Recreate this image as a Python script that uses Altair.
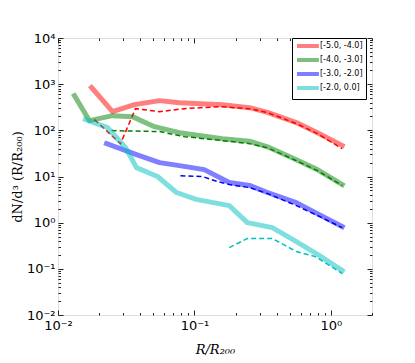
import altair as alt
import pandas as pd

bins = ["[-5.0, -4.0]", "[-4.0, -3.0]", "[-3.0, -2.0]", "[-2.0, 0.0]"]
colors = ["#FF0000", "#008000", "#0000FF", "#00BFBF"]

red_solid_x = [0.0176, 0.0251, 0.0363, 0.0555, 0.0776, 0.160, 0.253, 0.343, 0.558, 0.796, 1.21]
red_solid_y = [850, 254, 360, 440, 398, 360, 310, 245, 147, 89, 47]
red_dash_x = [0.0185, 0.0287, 0.0370, 0.0555, 0.0845, 0.152, 0.253, 0.343, 0.558, 0.796, 1.21]
red_dash_y = [171, 51.5, 295, 254, 295, 326, 295, 242, 140, 85, 40]

green_solid_x = [0.0132, 0.0170, 0.0251, 0.0351, 0.0509, 0.0776, 0.160, 0.253, 0.343, 0.558, 0.796, 1.21]
green_solid_y = [564, 162, 208, 198, 120, 89, 66, 58, 44, 23, 14.1, 6.7]
green_dash_x = [0.0247, 0.0555, 0.0845, 0.160, 0.253, 0.343, 0.558, 0.796, 1.21]
green_dash_y = [98.6, 94, 73, 60, 51.5, 42, 22, 13.4, 6.4]

blue_solid_x = [0.0227, 0.0376, 0.0555, 0.0776, 0.118, 0.180, 0.253, 0.343, 0.558, 0.796, 1.21]
blue_solid_y = [51.5, 29.8, 20, 17.2, 14.1, 7.4, 6.4, 4.5, 2.72, 1.57, 0.82]
blue_dash_x = [0.0789, 0.115, 0.147, 0.180, 0.253, 0.343, 0.558, 0.796, 1.21]
blue_dash_y = [10.4, 9.95, 7.8, 6.7, 5.75, 4.27, 2.34, 1.43, 0.78]

cyan_solid_x = [0.0159, 0.0231, 0.0313, 0.0376, 0.0536, 0.0738, 0.103, 0.180, 0.244, 0.372, 0.558, 0.809, 1.21]
cyan_solid_y = [171, 114, 42, 15.6, 10, 4.5, 3.2, 2.34, 1.0, 0.78, 0.39, 0.20, 0.092]
cyan_dash_x = [0.180, 0.244, 0.372, 0.558, 0.769, 1.21]
cyan_dash_y = [0.289, 0.453, 0.453, 0.237, 0.184, 0.079]

x_major = [0.01, 0.1, 1]
x_major_labels = ["10⁻²", "10⁻¹", "10⁰"]
x_minor = [m * 10.0 ** e for e in (-2, -1) for m in range(2, 10)] + [2.0]
y_major = [0.01, 0.1, 1, 10, 100, 1000, 10000]
y_major_labels = ["10⁻²", "10⁻¹", "10⁰", "10¹", "10²", "10³", "10⁴"]
y_minor = [m * 10.0 ** e for e in range(-2, 4) for m in range(2, 10)]

W, H = 314, 277

series = [
    (bins[0], red_solid_x, red_solid_y, red_dash_x, red_dash_y),
    (bins[1], green_solid_x, green_solid_y, green_dash_x, green_dash_y),
    (bins[2], blue_solid_x, blue_solid_y, blue_dash_x, blue_dash_y),
    (bins[3], cyan_solid_x, cyan_solid_y, cyan_dash_x, cyan_dash_y),
]


def label_expr(vals, labels):
    expr = "''"
    for v, l in reversed(list(zip(vals, labels))):
        expr = f"abs(datum.value - {v}) < {v}*0.001 ? '{l}' : ({expr})"
    return expr


xscale = alt.Scale(type="log", domain=[0.01, 2.0], nice=False)
yscale = alt.Scale(type="log", domain=[0.01, 10000], nice=False)
cscale = alt.Scale(domain=bins, range=colors)

tick_common = dict(labels=False, domain=False, grid=False, title=None,
                   tickColor="#222222", tickWidth=1)

x_axes = [
    alt.Axis(orient="bottom", values=x_major, labelExpr=label_expr(x_major, x_major_labels),
             ticks=False, domain=False, grid=False, labelPadding=4, labelFlush=False,
             labelFontSize=13, labelFont="DejaVu Sans", labelColor="#000000",
             title="R/R₂₀₀", titleFont="DejaVu Serif", titleFontStyle="italic",
             titleFontWeight="normal", titleFontSize=13, titleY=34, titleBaseline="middle"),
    alt.Axis(orient="top", offset=-H, values=x_major, tickSize=5, **tick_common),
    alt.Axis(orient="top", offset=-H, values=x_minor, tickSize=2.5, **tick_common),
    alt.Axis(orient="bottom", offset=-H, values=x_major, tickSize=5, **tick_common),
    alt.Axis(orient="bottom", offset=-H, values=x_minor, tickSize=2.5, **tick_common),
]
y_axes = [
    alt.Axis(orient="left", values=y_major, labelExpr=label_expr(y_major, y_major_labels),
             ticks=False, domain=False, grid=False, labelPadding=3, labelFlush=False,
             labelFontSize=13, labelFont="DejaVu Sans", labelColor="#000000",
             title="dN/d³ (R/R₂₀₀)", titleFont="DejaVu Serif",
             titleFontWeight="normal", titleFontSize=13, titleX=-41, titleY=H / 2,
             titleBaseline="middle", titleAngle=270),
    alt.Axis(orient="right", offset=-W, values=y_major, tickSize=5, **tick_common),
    alt.Axis(orient="right", offset=-W, values=y_minor, tickSize=2.5, **tick_common),
    alt.Axis(orient="left", offset=-W, values=y_major, tickSize=5, **tick_common),
    alt.Axis(orient="left", offset=-W, values=y_minor, tickSize=2.5, **tick_common),
]

legend = alt.Legend(title=None, orient="none", legendX=234, legendY=0,
                    symbolType="M-1,0L6.3,0", symbolStrokeWidth=4, symbolOpacity=0.5,
                    symbolSize=36, symbolDash=[1, 0],
                    labelFontSize=8, labelFont="DejaVu Sans", labelColor="#000000",
                    strokeColor="#000000", fillColor="#FFFFFF", padding=3,
                    rowPadding=-2, labelOffset=15, offset=0, cornerRadius=0)

layers = []
k = 0
for name, sx, sy, dx, dy in series:
    for style, xs, ys in (("solid", sx, sy), ("dash", dx, dy)):
        df = pd.DataFrame({"x": xs, "y": ys, "bin": name, "order": range(len(xs))})
        xa = x_axes[k] if k < len(x_axes) else None
        ya = y_axes[k] if k < len(y_axes) else None
        if style == "solid":
            mark = alt.Chart(df).mark_line(strokeWidth=5, opacity=0.5,
                                           strokeCap="square", strokeJoin="round")
            leg = legend if k == 0 else None
        else:
            mark = alt.Chart(df).mark_line(strokeWidth=1.5, strokeDash=[5, 3])
            leg = None
        layers.append(mark.encode(
            x=alt.X("x:Q", scale=xscale, axis=xa),
            y=alt.Y("y:Q", scale=yscale, axis=ya),
            color=alt.Color("bin:N", scale=cscale, legend=leg),
            order="order:Q",
        ))
        k += 1

chart = alt.layer(*layers).resolve_axis(x="independent", y="independent").properties(
    width=W, height=H,
    autosize=alt.AutoSizeParams(type="none"),
    padding={"left": 50, "top": 30, "right": 35, "bottom": 40},
).configure_view(stroke="#000000", strokeWidth=1).configure(background="#FFFFFF")

chart.save("out.html", embed_options={"renderer": "svg", "actions": False})
